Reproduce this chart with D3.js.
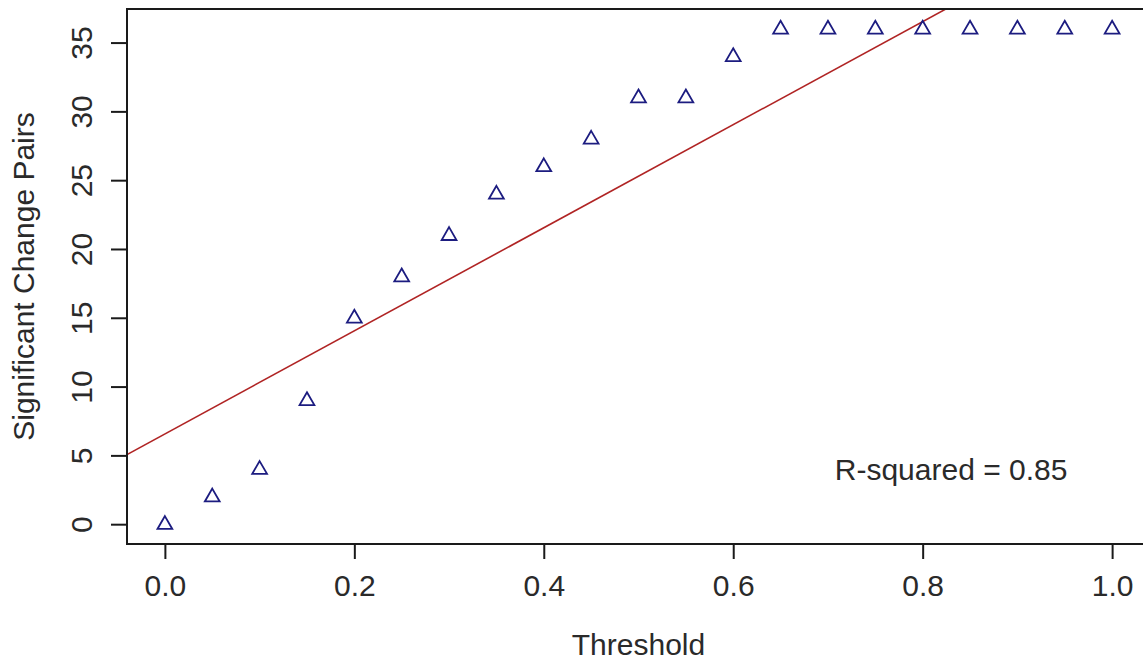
<!DOCTYPE html>
<html>
<head>
<meta charset="utf-8">
<script src="https://cdn.jsdelivr.net/npm/d3@7"></script>
<style>
  html, body { margin: 0; padding: 0; background: #fff; }
  svg { display: block; }
  text { font-family: "Liberation Sans", Arial, sans-serif; fill: #2a2a2a; }
</style>
</head>
<body>
<svg id="chart" width="1143" height="660"></svg>
<script>
// Threshold sweep and count of significant change pairs at each threshold
const thresholds = [0.00, 0.05, 0.10, 0.15, 0.20, 0.25, 0.30, 0.35, 0.40, 0.45, 0.50,
                    0.55, 0.60, 0.65, 0.70, 0.75, 0.80, 0.85, 0.90, 0.95, 1.00];
const pairCounts = [0, 2, 4, 9, 15, 18, 21, 24, 26, 28, 31,
                    31, 34, 36, 36, 36, 36, 36, 36, 36, 36];
const xTicks = [0.0, 0.2, 0.4, 0.6, 0.8, 1.0];
const yTicks = [0, 5, 10, 15, 20, 25, 30, 35];
const fitLabel = "R-squared = 0.85";
const fitLabelPos = [0.83, 4];
const xTitle = "Threshold";
const yTitle = "Significant Change Pairs";

const svg = d3.select("#chart");
const fontSize = 30;

// Axis limits padded by 4% of the data range on each side
const xExt = d3.extent(thresholds), yExt = d3.extent(pairCounts);
const xPad = (xExt[1] - xExt[0]) * 0.04, yPad = (yExt[1] - yExt[0]) * 0.04;

const plot = { left: 127, right: 1150, top: 9, bottom: 544 };

const x = d3.scaleLinear().domain([xExt[0] - xPad, xExt[1] + xPad]).range([plot.left, plot.right]);
const y = d3.scaleLinear().domain([yExt[0] - yPad, yExt[1] + yPad]).range([plot.bottom, plot.top]);

// Least-squares fit of counts on threshold
const mx = d3.mean(thresholds), my = d3.mean(pairCounts);
let sxy = 0, sxx = 0;
thresholds.forEach((t, i) => { sxy += (t - mx) * (pairCounts[i] - my); sxx += (t - mx) ** 2; });
const slope = sxy / sxx, intercept = my - slope * mx;

svg.append("clipPath").attr("id", "plotClip")
  .append("rect")
  .attr("x", plot.left).attr("y", plot.top)
  .attr("width", plot.right - plot.left).attr("height", plot.bottom - plot.top);

// Regression line across the whole plot region
const xd = x.domain();
svg.append("line")
  .attr("clip-path", "url(#plotClip)")
  .attr("x1", x(xd[0])).attr("y1", y(intercept + slope * xd[0]))
  .attr("x2", x(xd[1])).attr("y2", y(intercept + slope * xd[1]))
  .attr("stroke", "#b02424").attr("stroke-width", 1.6);

// Open triangle markers
const tri = d3.symbol().type(d3.symbolTriangle).size(95);
svg.append("g").selectAll("path")
  .data(thresholds.map((t, i) => [t, pairCounts[i]]))
  .join("path")
  .attr("d", tri)
  .attr("transform", d => `translate(${x(d[0])},${y(d[1]) + 0.5})`)
  .attr("fill", "none")
  .attr("stroke", "#1c1c80")
  .attr("stroke-width", 1.8);

// Frame
svg.append("rect")
  .attr("x", plot.left).attr("y", plot.top)
  .attr("width", plot.right - plot.left).attr("height", plot.bottom - plot.top)
  .attr("fill", "none").attr("stroke", "#1a1a1a").attr("stroke-width", 2);

// Bottom axis
const xAxis = d3.axisBottom(x).tickValues(xTicks).tickSize(15).tickPadding(16)
  .tickFormat(d3.format(".1f"));
const gx = svg.append("g").attr("transform", `translate(0,${plot.bottom})`).call(xAxis);
gx.select(".domain").remove();
gx.selectAll(".tick line").attr("stroke", "#1a1a1a").attr("stroke-width", 2);
gx.selectAll(".tick text").attr("font-size", fontSize).attr("fill", "#2a2a2a")
  .attr("font-family", "Liberation Sans, Arial, sans-serif");

// Left axis, labels drawn parallel to the axis
const yAxis = d3.axisLeft(y).tickValues(yTicks).tickSize(16).tickFormat(d3.format("d"));
const gy = svg.append("g").attr("transform", `translate(${plot.left},0)`).call(yAxis);
gy.select(".domain").remove();
gy.selectAll(".tick line").attr("stroke", "#1a1a1a").attr("stroke-width", 2);
gy.selectAll(".tick text")
  .attr("font-size", fontSize).attr("fill", "#2a2a2a")
  .attr("font-family", "Liberation Sans, Arial, sans-serif")
  .attr("x", null).attr("dy", null)
  .attr("text-anchor", "middle")
  .attr("transform", "translate(-35,0) rotate(-90)");

// Axis titles
svg.append("text")
  .attr("x", (plot.left + plot.right) / 2).attr("y", 655)
  .attr("text-anchor", "middle").attr("font-size", fontSize)
  .text(xTitle);

svg.append("text")
  .attr("transform", `translate(34,${(plot.top + plot.bottom) / 2}) rotate(-90)`)
  .attr("text-anchor", "middle").attr("font-size", fontSize)
  .text(yTitle);

// Fit annotation
svg.append("text")
  .attr("x", x(fitLabelPos[0])).attr("y", y(fitLabelPos[1]))
  .attr("dy", "0.35em")
  .attr("text-anchor", "middle").attr("font-size", fontSize)
  .text(fitLabel);
</script>
</body>
</html>
